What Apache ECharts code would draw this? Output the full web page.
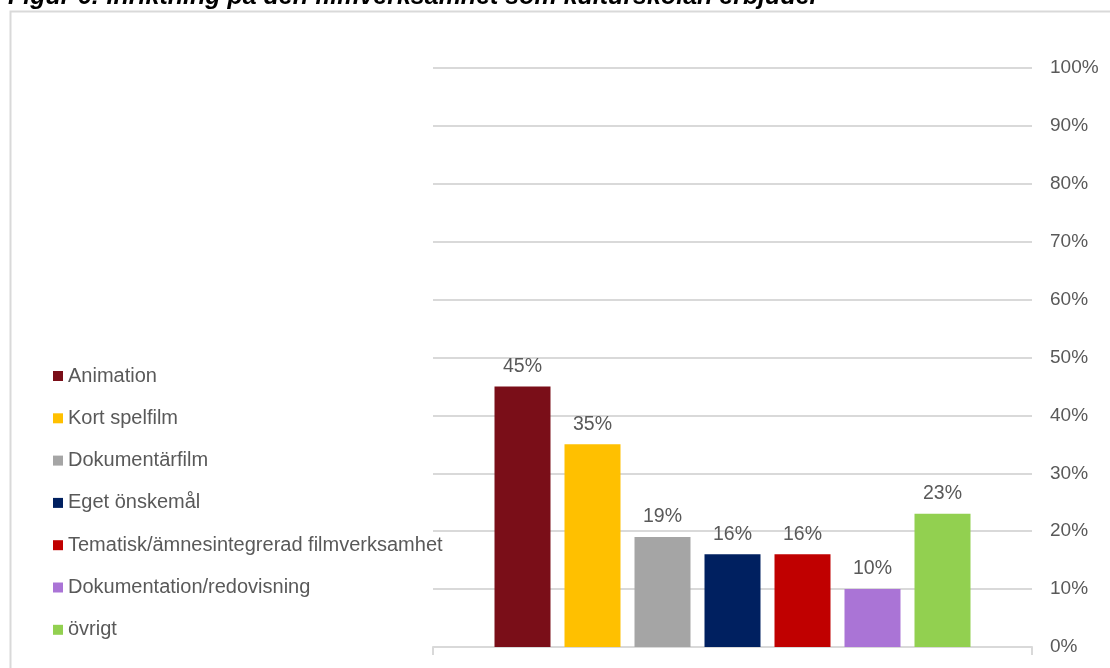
<!DOCTYPE html>
<html>
<head>
<meta charset="utf-8">
<script src="https://cdn.jsdelivr.net/npm/echarts@6/dist/echarts.min.js"></script>
<style>
  html, body { margin: 0; padding: 0; background: #fff; }
  #chart { width: 1110px; height: 668px; }
</style>
</head>
<body>
<div id="chart"></div>
<script>
const titleText = 'Figur 6: Inriktning på den filmverksamhet som kulturskolan erbjuder';
const seriesNames = ['Animation', 'Kort spelfilm', 'Dokumentärfilm', 'Eget önskemål', 'Tematisk/ämnesintegrerad filmverksamhet', 'Dokumentation/redovisning', 'övrigt'];
const seriesValues = [45, 35, 19, 16, 16, 10, 23];
const seriesColors = ['#7a0e18', '#ffc000', '#a5a5a5', '#002060', '#c00000', '#aa74d6', '#92d050'];
const yTickLabels = ['0%', '10%', '20%', '30%', '40%', '50%', '60%', '70%', '80%', '90%', '100%'];

const FONT = '"Liberation Sans", Arial, sans-serif';
const TXT = '#595959';
const GRID = '#d9d9d9';

const chart = echarts.init(document.getElementById('chart'), null, { renderer: 'canvas' });

const series = seriesNames.map((name, i) => ({
  name: name,
  type: 'bar',
  data: [seriesValues[i]],
  barWidth: 56,
  barGap: '25%',
  itemStyle: { color: seriesColors[i] },
  label: {
    show: true,
    position: 'top',
    distance: 10,
    formatter: '{c}%',
    color: TXT,
    fontSize: 19.5,
    fontFamily: FONT
  }
}));

chart.setOption({
  animation: false,
  backgroundColor: '#ffffff',
  title: {
    text: titleText,
    left: 8,
    top: -15,
    padding: 0,
    textStyle: {
      fontFamily: FONT,
      fontSize: 25,
      fontWeight: 'bold',
      fontStyle: 'italic',
      color: '#000000'
    }
  },
  graphic: [{
    type: 'rect',
    shape: { x: 10.5, y: 11.5, width: 1200, height: 800 },
    style: { fill: 'none', stroke: GRID, lineWidth: 2 },
    silent: true,
    z: -1
  }],
  legend: {
    orient: 'vertical',
    left: 53,
    top: 366,
    padding: 0,
    itemGap: 22.3,
    itemWidth: 10,
    itemHeight: 10,
    icon: 'rect',
    textStyle: { color: TXT, fontSize: 20, fontFamily: FONT, lineHeight: 20 },
    data: seriesNames
  },
  grid: { left: 433, right: 78, top: 68, bottom: 21, containLabel: false },
  xAxis: {
    type: 'category',
    data: [''],
    axisLine: { show: true, lineStyle: { color: GRID, width: 2 } },
    axisTick: { show: true, length: 8, lineStyle: { color: GRID, width: 2 } },
    axisLabel: { show: false },
    splitLine: { show: false }
  },
  yAxis: {
    type: 'value',
    position: 'right',
    min: 0,
    max: 100,
    interval: 10,
    axisLine: { show: false },
    axisTick: { show: false },
    axisLabel: {
      margin: 18,
      color: TXT,
      fontSize: 19,
      fontFamily: FONT,
      padding: [3, 0, 0, 0],
      formatter: (v) => yTickLabels[Math.round(v / 10)]
    },
    splitLine: { show: true, lineStyle: { color: GRID, width: 2 } }
  },
  series: series
});
</script>
</body>
</html>
